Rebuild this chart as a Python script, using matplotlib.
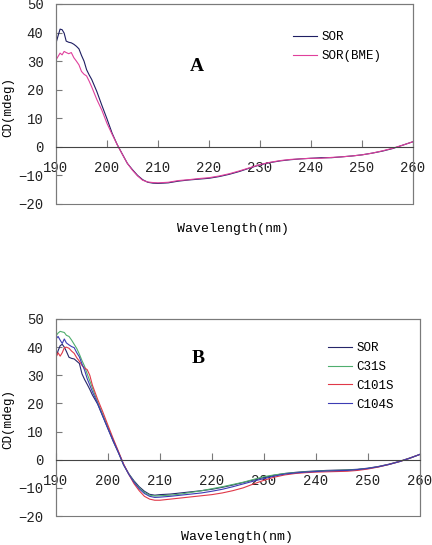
import matplotlib
matplotlib.use("Agg")
import matplotlib.pyplot as plt
from matplotlib.patches import Rectangle

# panel A: SOR vs SOR(BME)
wl_a = [190, 190.4, 190.8, 191.2, 191.6, 192, 192.5, 193, 193.5, 194, 194.5, 195, 195.5, 196, 196.5,
        197, 198, 199, 200, 201, 202, 203, 204, 205, 206, 207, 208, 209, 210,
        212, 214, 216, 218, 220, 222, 224, 226, 228, 230, 232, 234, 236, 238, 240,
        242, 244, 246, 248, 250, 252, 254, 256, 258, 260]
sor_a = [36.3, 38.8, 41.2, 41.0, 39.8, 37.0, 36.6, 36.4, 35.9, 35.2, 34.3, 32.0, 30.0, 27.0, 25.2,
         23.6, 19.4, 14.5, 9.8, 4.8, 0.8, -2.5, -5.8, -8.0, -10.0, -11.5, -12.4, -12.7, -12.8,
         -12.6, -12.0, -11.6, -11.3, -11.0, -10.4, -9.6, -8.6, -7.4, -6.3, -5.5, -4.9, -4.5, -4.2, -4.0,
         -3.8, -3.8, -3.5, -3.2, -2.8, -2.2, -1.5, -0.6, 0.6, 1.8]
sor_bme = [30.4, 31.6, 32.8, 32.2, 33.4, 33.0, 32.6, 33.0, 31.2, 30.0, 28.7, 26.4, 25.4, 24.8, 23.0,
           21.0, 16.6, 12.8, 8.2, 4.4, 0.8, -2.6, -5.8, -8.2, -10.2, -11.7, -12.3, -12.5, -12.6,
           -12.4, -11.8, -11.5, -11.1, -10.8, -10.2, -9.4, -8.4, -7.3, -6.2, -5.4, -4.8, -4.4, -4.2, -4.0,
           -4.0, -3.7, -3.5, -3.2, -2.8, -2.2, -1.4, -0.5, 0.6, 1.8]

# panel B: SOR and mutants
wl_b = wl_a
sor_b = [36.4, 38.7, 40.5, 41.0, 40.0, 38.5, 36.4, 36.0, 35.8, 35.0, 34.2, 30.5, 28.5, 26.8, 25.0,
         23.0, 19.8, 15.4, 11.0, 6.5, 2.5, -1.8, -5.0, -7.5, -9.6, -11.2, -12.3, -12.6, -12.4,
         -12.2, -11.8, -11.4, -11.0, -10.5, -9.8, -9.0, -8.1, -7.2, -6.3, -5.5, -4.9, -4.5, -4.2, -4.0,
         -3.8, -3.7, -3.6, -3.4, -3.0, -2.4, -1.6, -0.6, 0.6, 1.9]
c31s = [44.0, 45.0, 45.6, 45.4, 45.2, 44.2, 43.8, 42.5, 41.0, 39.5, 37.5, 35.2, 33.2, 30.5, 28.0,
        25.5, 20.5, 16.0, 11.5, 7.0, 2.8, -1.8, -5.0, -7.8, -10.0, -11.6, -12.6, -12.9, -12.8,
        -12.6, -12.2, -11.6, -11.0, -10.3, -9.6, -8.8, -8.0, -7.0, -6.0, -5.4, -4.9, -4.6, -4.3, -4.1,
        -3.9, -3.8, -3.7, -3.5, -3.1, -2.5, -1.7, -0.7, 0.5, 1.9]
c101s = [36.4, 38.0, 36.8, 38.0, 39.8, 40.0, 39.6, 38.6, 37.8, 36.2, 35.0, 33.5, 32.6, 32.0, 30.0,
         26.5, 21.5, 17.0, 12.2, 7.5, 3.0, -1.5, -5.2, -8.5, -11.0, -13.0, -14.0, -14.4, -14.4,
         -14.0, -13.6, -13.2, -12.8, -12.4, -11.8, -11.0, -10.0, -8.6, -7.3, -6.2, -5.4, -4.9, -4.6, -4.4,
         -4.3, -4.2, -4.1, -3.8, -3.3, -2.6, -1.7, -0.7, 0.5, 1.9]
c104s = [42.9, 43.8, 42.5, 41.3, 42.9, 41.5, 40.8, 40.2, 39.8, 38.0, 36.5, 34.0, 31.8, 28.8, 26.5,
         24.2, 20.0, 15.5, 11.0, 6.8, 2.6, -1.8, -5.2, -8.0, -10.3, -12.0, -13.0, -13.4, -13.3,
         -13.0, -12.6, -12.2, -11.8, -11.2, -10.5, -9.6, -8.6, -7.6, -6.7, -5.8, -5.1, -4.7, -4.4, -4.2,
         -4.0, -3.9, -3.8, -3.5, -3.1, -2.5, -1.7, -0.7, 0.5, 1.9]

xticks = [190, 200, 210, 220, 230, 240, 250, 260]
yticks = [-20, -10, 0, 10, 20, 30, 40, 50]

MONO = "Liberation Mono"
GREY = "#7a7a7a"

fig = plt.figure(figsize=(4.32, 5.45), dpi=100)


def style_axes(ax):
    ax.set_xlim(190, 260)
    ax.set_ylim(-20, 50)
    for s in ("top", "right", "left"):
        ax.spines[s].set_color(GREY)
        ax.spines[s].set_linewidth(0.8)
    # x axis sits on the zero line
    ax.spines["bottom"].set_position(("data", 0))
    ax.spines["bottom"].set_color("#444444")
    ax.spines["bottom"].set_linewidth(0.8)
    ax.add_patch(Rectangle((0, 0), 1, 1, transform=ax.transAxes, fill=False,
                           edgecolor=GREY, linewidth=0.8, clip_on=False))
    ax.set_xticks(xticks)
    ax.set_yticks(yticks)
    ax.tick_params(axis="x", direction="in", length=5, width=0.8, color=GREY, pad=10)
    ax.tick_params(axis="y", direction="in", length=4, width=0.8, color=GREY, pad=9)
    for lab in ax.get_xticklabels() + ax.get_yticklabels():
        lab.set_fontfamily(MONO)
        lab.set_fontsize(10)
        lab.set_color("#222222")


# ---- A
ax1 = fig.add_axes([0.1296, 0.6257, 0.8264, 0.367])
ax1.plot(wl_a, sor_a, color="#1e1e62", lw=0.8, label="SOR")
ax1.plot(wl_a, sor_bme, color="#e0409c", lw=0.8, label="SOR(BME)")
style_axes(ax1)
ax1.text(0.395, 0.685, "A", transform=ax1.transAxes, ha="center", va="center",
         fontfamily="Liberation Serif", fontweight="bold", fontsize=14)
ax1.legend(loc="upper left", bbox_to_anchor=(0.664, 0.865), frameon=False,
           prop={"family": MONO, "size": 9}, handlelength=1.9, handletextpad=0.4,
           labelspacing=0.6, borderpad=0, borderaxespad=0)
fig.text(0.018, 0.804, "CD(mdeg)", rotation=90, ha="center", va="center",
         fontfamily=MONO, fontsize=9)
fig.text(0.539, 0.58, "Wavelength(nm)", ha="center", va="center",
         fontfamily=MONO, fontsize=9.5)

# ---- B
ax2 = fig.add_axes([0.1296, 0.0532, 0.8426, 0.3615])
ax2.plot(wl_b, sor_b, color="#26266a", lw=0.8, label="SOR")
ax2.plot(wl_b, c31s, color="#4fae6e", lw=0.8, label="C31S")
ax2.plot(wl_b, c101s, color="#e03848", lw=0.8, label="C101S")
ax2.plot(wl_b, c104s, color="#3c3cb4", lw=0.8, label="C104S")
style_axes(ax2)
ax2.text(0.39, 0.797, "B", transform=ax2.transAxes, ha="center", va="center",
         fontfamily="Liberation Serif", fontweight="bold", fontsize=14)
ax2.legend(loc="upper left", bbox_to_anchor=(0.747, 0.883), frameon=False,
           prop={"family": MONO, "size": 9}, handlelength=1.9, handletextpad=0.4,
           labelspacing=0.55, borderpad=0, borderaxespad=0)
fig.text(0.018, 0.231, "CD(mdeg)", rotation=90, ha="center", va="center",
         fontfamily=MONO, fontsize=9)
fig.text(0.549, 0.015, "Wavelength(nm)", ha="center", va="center",
         fontfamily=MONO, fontsize=9.5)

fig.savefig("out.png", dpi=100)
